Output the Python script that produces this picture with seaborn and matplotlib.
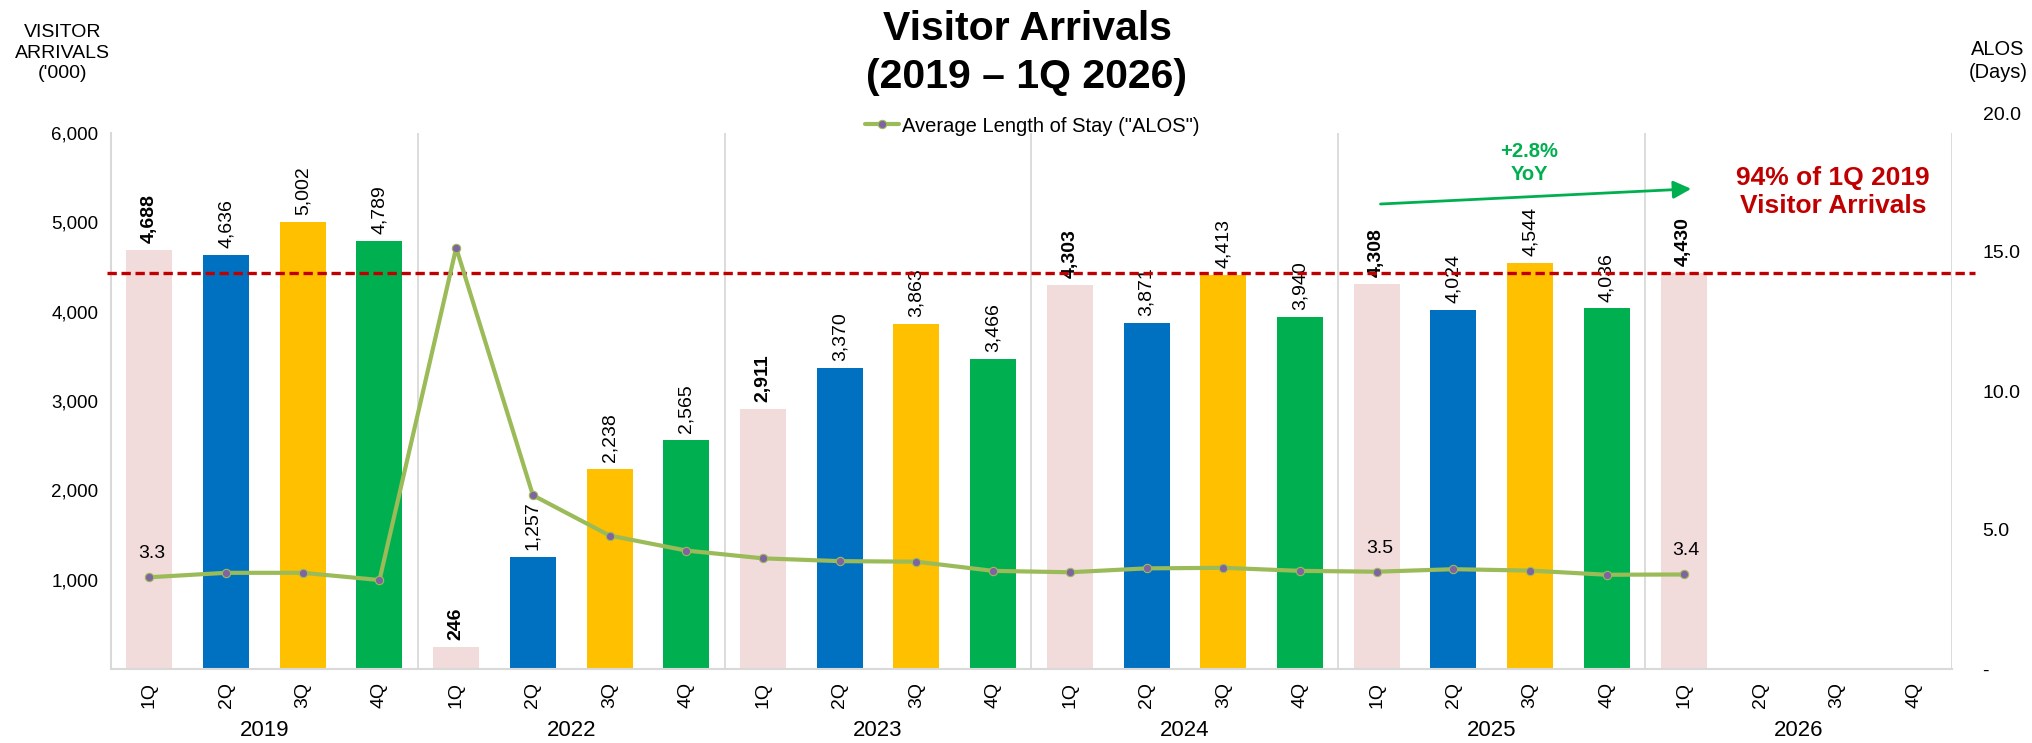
import numpy as np
import pandas as pd
import matplotlib
matplotlib.use("Agg")
import matplotlib.pyplot as plt
from matplotlib.ticker import FuncFormatter, FixedLocator
import seaborn as sns

# ---------------- data ----------------
years = ["2019", "2022", "2023", "2024", "2025", "2026"]
quarters = ["1Q", "2Q", "3Q", "4Q"]
visitors = [4688, 4636, 5002, 4789,
            246, 1257, 2238, 2565,
            2911, 3370, 3863, 3466,
            4303, 3871, 4413, 3940,
            4308, 4024, 4544, 4036,
            4430, np.nan, np.nan, np.nan]
alos = [3.3, 3.46, 3.46, 3.2,
        15.15, 6.25, 4.8, 4.26,
        3.98, 3.88, 3.86, 3.53,
        3.48, 3.62, 3.64, 3.53,
        3.5, 3.59, 3.54, 3.39,
        3.4, np.nan, np.nan, np.nan]
alos_labelled = ["1Q 2019", "1Q 2025", "1Q 2026"]
reference_level = 4430
yoy_text = "+2.8%\nYoY"
callout_text = "94% of 1Q 2019\nVisitor Arrivals"
quarter_colors = {"1Q": "#F2DCDB", "2Q": "#0070C0", "3Q": "#FFC000", "4Q": "#00B050"}

periods = [f"{q} {y}" for y in years for q in quarters]
df = pd.DataFrame({
    "period": periods,
    "quarter": [q for y in years for q in quarters],
    "year": [y for y in years for q in quarters],
    "visitors": visitors,
    "alos": alos,
})
df["pos"] = np.arange(len(df))

# ---------------- figure ----------------
sns.set_theme(style="white")
plt.rcParams["font.family"] = ["Liberation Sans", "DejaVu Sans"]
for k in ["text.color", "axes.labelcolor", "xtick.color", "ytick.color"]:
    plt.rcParams[k] = "black"

W, H = 2033, 743
fig = plt.figure(figsize=(W / 100, H / 100), dpi=100)
x0, x1 = 111, 1952
ybase, ytop1, ytop2 = 669, 133, 113
ax1 = fig.add_axes([x0 / W, (H - ybase) / H, (x1 - x0) / W, (ybase - ytop1) / H])
ax2 = fig.add_axes([x0 / W, (H - ybase) / H, (x1 - x0) / W, (ybase - ytop2) / H])
ax2.set_facecolor("none")

grid_c = "#D9D9D9"

sns.barplot(data=df, x="period", y="visitors", hue="quarter", order=periods,
            hue_order=quarters, palette=quarter_colors, dodge=False, width=0.6,
            saturation=1, errorbar=None, legend=False, ax=ax1, linewidth=0)

for cont, q in zip(ax1.containers, quarters):
    labels = ["" if not np.isfinite(v) else f"{v:,.0f}" for v in cont.datavalues]
    ax1.bar_label(cont, labels=labels, rotation=90, padding=5, fontsize=14,
                  fontweight="bold" if q == "1Q" else "normal", color="black")

ax1.set_xlim(-0.5, len(periods) - 0.5)
ax1.set_ylim(0, 6000)
ax1.yaxis.set_major_locator(FixedLocator([0, 1000, 2000, 3000, 4000, 5000, 6000]))
ax1.yaxis.set_major_formatter(FuncFormatter(lambda v, p: "" if v == 0 else f"{v:,.0f}"))
ax1.tick_params(axis="y", length=5, width=1.2, color=grid_c, labelsize=13.5, pad=4,
                labelcolor="black")
ax1.set_xticks(np.arange(len(periods)))
ax1.set_xticklabels([p.split()[0] for p in periods], rotation=90, fontsize=14)
ax1.tick_params(axis="x", length=0, pad=9, labelcolor="black")
ax1.set_xlabel("")
ax1.set_ylabel("")
for s in ["top", "right"]:
    ax1.spines[s].set_visible(False)
for s in ["left", "bottom"]:
    ax1.spines[s].set_color(grid_c)
    ax1.spines[s].set_linewidth(1.5)
for k in range(1, len(years) + 1):
    ax1.axvline(4 * k - 0.5, color=grid_c, lw=1.3, zorder=0)

# year labels
for g, y in enumerate(years):
    ax1.text(4 * g + 1.5, -0.114, y, transform=ax1.get_xaxis_transform(),
             ha="center", va="center", fontsize=16, color="black")

# reference dashed line
ax1.plot([-0.002, 1.0125], [reference_level, reference_level],
         transform=ax1.get_yaxis_transform(), clip_on=False,
         color="#C00000", lw=2.4, dashes=(2.8, 1.4), zorder=5)

# ---------------- ALOS line ----------------
sns.lineplot(data=df, x="pos", y="alos", ax=ax2, color="#9BBB59", lw=3,
             marker="o", markersize=6, markerfacecolor="#8064A2",
             markeredgecolor="#9BBB59", markeredgewidth=0.8,
             label='Average Length of Stay ("ALOS")')
ax2.set_xlim(-0.5, len(periods) - 0.5)
ax2.set_ylim(0, 20)
ax2.set_xticks([])
ax2.set_xlabel("")
ax2.set_ylabel("")
ax2.yaxis.tick_right()
ax2.yaxis.set_major_locator(FixedLocator([0, 5, 10, 15, 20]))
ax2.yaxis.set_major_formatter(FuncFormatter(lambda v, p: "-" if v == 0 else f"{v:.1f}"))
ax2.tick_params(axis="y", length=0, labelsize=14, pad=22, labelcolor="black")
for s in ax2.spines.values():
    s.set_visible(False)
handles, labs = ax2.get_legend_handles_labels()
ax2.get_legend().remove()

for _, r in df[df["period"].isin(alos_labelled)].iterrows():
    ax2.annotate(f"{r['alos']:.1f}", (r["pos"], r["alos"]), xytext=(2, 17),
                 textcoords="offset points", ha="center", va="center", fontsize=14,
                 color="black")

# legend
fig.legend(handles, labs, loc="center left", bbox_to_anchor=(865 / W, 1 - 126 / H),
           frameon=False, fontsize=14.5, handlelength=1.7, handletextpad=0.15,
           borderpad=0, borderaxespad=0, numpoints=1, labelcolor="black")

# titles & axis captions
fig.text(1027 / W, 1 - 29 / H, "Visitor Arrivals", ha="center", va="center",
         fontsize=29.5, fontweight="bold", color="black")
fig.text(1027 / W, 1 - 77 / H, "(2019 \u2013 1Q 2026)", ha="center", va="center",
         fontsize=29.5, fontweight="bold", color="black")
fig.text(62.5 / W, 1 - 53 / H, "VISITOR\nARRIVALS\n('000)", ha="center", va="center",
         fontsize=14, linespacing=1.28, color="black")
fig.text(1998 / W, 1 - 61 / H, "ALOS\n(Days)", ha="center", va="center",
         fontsize=14.4, linespacing=1.29, color="black")

# annotations
ax1.annotate("", xy=(20.1, 5375), xytext=(16.05, 5205),
             arrowprops=dict(arrowstyle="-|>,head_length=0.9,head_width=0.45",
                             color="#00B050", lw=2, shrinkA=0, shrinkB=0))
fig.text(1529 / W, 1 - 163 / H, yoy_text, ha="center", va="center", color="#00B050",
         fontsize=14.5, fontweight="bold", linespacing=1.3)
fig.text(1833 / W, 1 - 192 / H, callout_text, ha="center", va="center", color="#C00000",
         fontsize=19, fontweight="bold", linespacing=1.2)

fig.savefig("out.png", dpi=100, facecolor="white")
